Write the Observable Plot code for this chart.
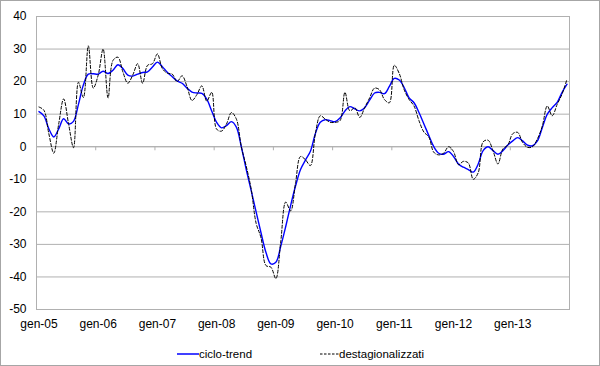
<!DOCTYPE html>
<html><head><meta charset="utf-8">
<script src="https://cdn.jsdelivr.net/npm/d3@7"></script>
<script src="https://cdn.jsdelivr.net/npm/@observablehq/plot@0.6"></script>
<style>
body{margin:0;background:#fff;font-family:Arial,"Liberation Sans",sans-serif;}
#wrap{position:relative;width:600px;height:366px;overflow:hidden;background:#fff;}
#chart{position:absolute;left:0;top:0;}
#border{position:absolute;left:0;top:0;width:598px;height:364px;border:1px solid #a6a6a6;pointer-events:none;}
#legend{position:absolute;top:345px;left:0;width:600px;height:18px;font-size:11.5px;color:#000;}
.item{position:absolute;top:0;display:flex;align-items:center;height:18px;white-space:nowrap;}
.item svg{display:block;}
</style></head><body>
<div id="wrap"><div id="chart"></div><div id="legend"></div><div id="border"></div></div>
<script>
const yearLabels = ["gen-05","gen-06","gen-07","gen-08","gen-09","gen-10","gen-11","gen-12","gen-13"];
const yTicks = [-50,-40,-30,-20,-10,0,10,20,30,40];
const seriesNames = ["ciclo-trend","destagionalizzati"];

// monthly values, gen-05 .. dic-13
const cicloTrend = [
  10.8, 9.5, 5.5, 3.0, 5.5, 8.6, 7.0, 7.8, 13.0, 19.0, 22.3, 22.4,
  22.3, 23.2, 22.5, 23.5, 25.2, 24.0, 22.0, 21.7, 22.3, 22.8, 23.0, 24.5,
  26.0, 24.6, 22.9, 21.5, 20.2, 19.5, 18.0, 16.8, 16.5, 16.4, 14.6, 11.0,
  7.5, 5.8, 6.5, 7.7, 6.0, 0.0, -7.0, -13.5, -20.0, -26.5, -32.5, -36.0,
  -35.5, -30.5, -24.5, -18.0, -12.0, -7.0, -4.1, -1.4, 4.0, 7.5, 8.3, 8.0,
  7.7, 8.8, 11.0, 12.3, 11.6, 11.0, 12.0, 14.3, 16.5, 16.7, 16.3, 18.5,
  21.0, 20.5, 18.2, 15.0, 13.5, 10.5, 7.0, 3.4, 0.0, -2.0, -2.3, -1.5,
  -3.0, -5.3, -6.3, -7.0, -7.8, -5.3, -1.2, 0.0, -1.2, -2.3, -1.2, 0.5,
  1.8, 2.8, 1.8, 0.5, 0.3, 1.8, 5.9, 10.0, 12.0, 13.6, 16.7, 19.2
];
const destagionalizzati = [
  12.2, 11.2, 4.0, -2.0, 7.0, 14.7, 7.0, -0.3, 19.8, 15.1, 31.0, 18.0,
  22.0, 30.0, 15.0, 26.5, 27.5, 23.0, 19.5, 22.0, 25.5, 19.5, 25.0, 25.5,
  28.5, 24.0, 22.6, 22.3, 20.0, 21.8, 18.5, 14.2, 16.0, 18.7, 14.0, 16.7,
  5.4, 4.8, 7.0, 10.5, 8.5, 0.0, -6.0, -13.0, -23.5, -28.0, -36.5, -37.0,
  -40.5, -29.0, -17.0, -19.7, -11.0, -3.0, -4.0, -5.8, 4.0, 9.5, 8.5, 7.5,
  7.5, 8.0, 16.7, 11.0, 12.0, 9.0, 12.0, 15.0, 18.0, 17.5, 14.5, 13.5,
  25.0, 22.5, 17.5, 14.5, 12.5, 8.0, 4.5, 3.0, -1.7, -2.5, -2.0, 0.0,
  -1.5, -5.5, -4.5, -5.0, -10.0, -8.0, 1.5, 2.0, -1.2, -5.3, -0.7, 0.5,
  4.0, 4.4, 1.3, -0.2, 0.0, 2.4, 6.4, 12.5, 9.5, 13.0, 16.2, 20.8
];

const rows = cicloTrend.map((v, i) => ({m: i + 0.5, trend: v, dest: destagionalizzati[i]}));
const nMonths = cicloTrend.length;
const yearStarts = d3.range(0, nMonths + 1, 12);
const labelPos = yearLabels.map((l, i) => i * 12 + 0.5);
const grid = "#b0b0b0";

const chart = Plot.plot({
  width: 600, height: 336,
  marginLeft: 36, marginRight: 31, marginTop: 16, marginBottom: 27,
  style: {fontFamily: "Arial, 'Liberation Sans', sans-serif", fontSize: "12px", color: "#000", background: "transparent"},
  x: {type: "linear", domain: [0, nMonths], label: null},
  y: {domain: [-50, 40], label: null},
  marks: [
    Plot.gridY(yTicks, {stroke: grid, strokeOpacity: 1}),
    Plot.frame({stroke: grid, strokeOpacity: 1}),
    Plot.ruleY([0], {stroke: grid}),
    Plot.ruleX(yearStarts, {x: d => d, y1: 0, y2: -1.25, stroke: grid}),
    Plot.axisY(yTicks, {tickSize: 0, tickPadding: 10, tickFormat: d => String(d), fontSize: 12, label: null}),
    Plot.axisX(labelPos, {tickSize: 0, tickPadding: 10, tickFormat: d => yearLabels[Math.round((d - 0.5) / 12)], fontSize: 12, label: null}),
    Plot.line(rows, {x: "m", y: "trend", stroke: "#0000ff", strokeWidth: 1.4, curve: "catmull-rom"}),
    Plot.line(rows, {x: "m", y: "dest", stroke: "#000", strokeWidth: 1, strokeDasharray: "3,2", curve: "catmull-rom"})
  ]
});
document.getElementById("chart").appendChild(chart);

const legend = document.getElementById("legend");
legend.innerHTML =
  `<div class="item" style="left:177px"><svg width="22" height="4"><line x1="0" y1="2" x2="22" y2="2" stroke="#0000ff" stroke-width="1.5"/></svg><span>${seriesNames[0]}</span></div>` +
  `<div class="item" style="left:320px"><svg width="19" height="4"><line x1="0" y1="2" x2="19" y2="2" stroke="#000" stroke-width="1" stroke-dasharray="2.5,1.5"/></svg><span>${seriesNames[1]}</span></div>`;
</script>
</body></html>
